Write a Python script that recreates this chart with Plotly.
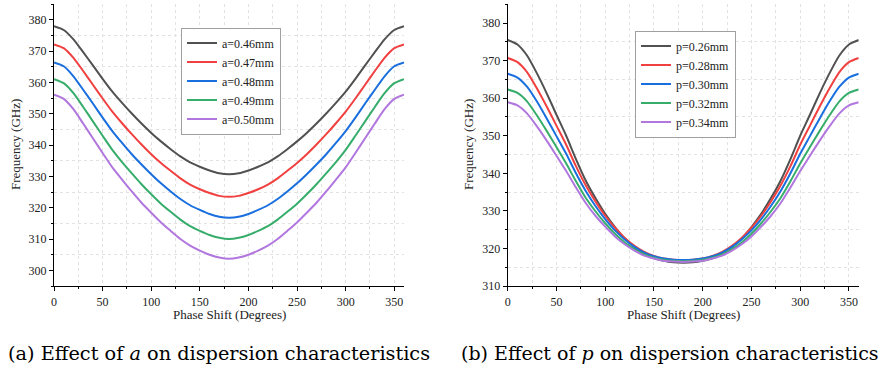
import plotly.graph_objects as go

phase = list(range(0, 361, 10))

# (a) effect of a  (GHz, 0..360 deg step 10)
a_labels = ["a=0.46mm", "a=0.47mm", "a=0.48mm", "a=0.49mm", "a=0.50mm"]
a_046 = [378.0, 376.8, 373.8, 369.7, 365.5, 361.2, 357.1, 353.5, 350.1, 346.9, 343.9, 341.2, 338.7,
         336.4, 334.5, 333.1, 331.9, 331.0, 330.7, 331.0, 331.9, 333.1, 334.5, 336.4, 338.7, 341.2,
         343.9, 346.9, 350.1, 353.5, 357.1, 361.2, 365.5, 369.7, 373.8, 376.8, 378.0]
a_047 = [372.2, 371.0, 367.9, 363.7, 359.3, 354.9, 350.7, 347.0, 343.5, 340.2, 337.1, 334.3, 331.8,
         329.4, 327.4, 325.9, 324.7, 323.8, 323.5, 323.8, 324.7, 325.9, 327.4, 329.4, 331.8, 334.3,
         337.1, 340.2, 343.5, 347.0, 350.7, 354.9, 359.3, 363.7, 367.9, 371.0, 372.2]
a_048 = [366.4, 365.2, 362.0, 357.7, 353.3, 348.8, 344.5, 340.7, 337.1, 333.8, 330.7, 327.8, 325.2,
         322.8, 320.8, 319.3, 318.0, 317.1, 316.8, 317.1, 318.0, 319.3, 320.8, 322.8, 325.2, 327.8,
         330.7, 333.8, 337.1, 340.7, 344.5, 348.8, 353.3, 357.7, 362.0, 365.2, 366.4]
a_049 = [361.1, 359.8, 356.6, 352.2, 347.6, 343.0, 338.5, 334.6, 331.0, 327.5, 324.3, 321.3, 318.7,
         316.2, 314.1, 312.6, 311.3, 310.4, 310.0, 310.4, 311.3, 312.6, 314.1, 316.2, 318.7, 321.3,
         324.3, 327.5, 331.0, 334.6, 338.5, 343.0, 347.6, 352.2, 356.6, 359.8, 361.1]
a_050 = [356.1, 354.8, 351.5, 346.9, 342.2, 337.5, 332.9, 329.0, 325.2, 321.6, 318.4, 315.3, 312.6,
         310.0, 307.9, 306.3, 305.0, 304.1, 303.7, 304.1, 305.0, 306.3, 307.9, 310.0, 312.6, 315.3,
         318.4, 321.6, 325.2, 329.0, 332.9, 337.5, 342.2, 346.9, 351.5, 354.8, 356.1]

# (b) effect of p
p_labels = ["p=0.26mm", "p=0.28mm", "p=0.30mm", "p=0.32mm", "p=0.34mm"]
p_026 = [375.5, 374.3, 371.3, 366.6, 361.3, 355.6, 350.0, 343.8, 338.1, 333.4, 329.2, 325.7, 322.7,
         320.4, 318.6, 317.4, 316.7, 316.3, 316.2, 316.3, 316.7, 317.4, 318.6, 320.4, 322.7, 325.7,
         329.2, 333.4, 338.1, 343.8, 350.0, 355.6, 361.3, 366.6, 371.3, 374.3, 375.5]
p_028 = [370.7, 369.6, 366.9, 362.6, 357.8, 352.7, 347.6, 341.9, 336.8, 332.5, 328.7, 325.5, 322.8,
         320.7, 319.1, 318.0, 317.3, 317.0, 316.9, 317.0, 317.3, 318.0, 319.1, 320.7, 322.8, 325.5,
         328.7, 332.5, 336.8, 341.9, 347.6, 352.7, 357.8, 362.6, 366.9, 369.6, 370.7]
p_030 = [366.5, 365.5, 363.0, 359.1, 354.6, 349.9, 345.2, 340.0, 335.3, 331.3, 327.8, 324.8, 322.4,
         320.4, 318.9, 317.9, 317.3, 317.0, 316.9, 317.0, 317.3, 317.9, 318.9, 320.4, 322.4, 324.8,
         327.8, 331.3, 335.3, 340.0, 345.2, 349.9, 354.6, 359.1, 363.0, 365.5, 366.5]
p_032 = [362.3, 361.4, 359.1, 355.4, 351.3, 347.0, 342.6, 337.9, 333.5, 329.9, 326.7, 323.9, 321.6,
         319.8, 318.4, 317.5, 317.0, 316.7, 316.6, 316.7, 317.0, 317.5, 318.4, 319.8, 321.6, 323.9,
         326.7, 329.9, 333.5, 337.9, 342.6, 347.0, 351.3, 355.4, 359.1, 361.4, 362.3]
p_034 = [358.9, 358.1, 355.9, 352.5, 348.7, 344.7, 340.6, 336.2, 332.1, 328.7, 325.8, 323.2, 321.1,
         319.4, 318.1, 317.3, 316.7, 316.5, 316.4, 316.5, 316.7, 317.3, 318.1, 319.4, 321.1, 323.2,
         325.8, 328.7, 332.1, 336.2, 340.6, 344.7, 348.7, 352.5, 355.9, 358.1, 358.9]

colors = ["#515151", "#F14040", "#1A6FDF", "#37AD6B", "#B177DE"]
x_ticks = [0, 50, 100, 150, 200, 250, 300, 350]
x_title = "Phase Shift (Degrees)"
y_title = "Frequency (GHz)"
captions = ["(a) Effect of <i>a</i> on dispersion characteristics",
            "(b) Effect of <i>p</i> on dispersion characteristics"]

FONT = "Liberation Serif, Times New Roman, serif"
CAPFONT = "DejaVu Serif, serif"
fig = go.Figure()

for name, ys, c in zip(a_labels, [a_046, a_047, a_048, a_049, a_050], colors):
    fig.add_trace(go.Scatter(x=phase, y=ys, name=name, mode="lines",
                             line=dict(color=c, width=2, shape="spline", smoothing=0.6),
                             xaxis="x", yaxis="y", legend="legend"))
for name, ys, c in zip(p_labels, [p_026, p_028, p_030, p_032, p_034], colors):
    fig.add_trace(go.Scatter(x=phase, y=ys, name=name, mode="lines",
                             line=dict(color=c, width=2, shape="spline", smoothing=0.6),
                             xaxis="x2", yaxis="y2", legend="legend2"))

H = 372
ydom = [(H - 286) / H, (H - 4.3) / H]
xdom1 = [54 / 885, 404 / 885]
xdom2 = [507.7 / 885, 858.7 / 885]

tickfont = dict(family=FONT, size=12, color="#222")

def xbase(dom, anchor):
    return dict(domain=dom, anchor=anchor, range=[0, 360], tickvals=x_ticks, automargin=False,
                showgrid=False, zeroline=False, showline=True, linecolor="black", linewidth=1.3,
                ticks="outside", ticklen=4, tickwidth=1, tickcolor="black",
                minor=dict(dtick=25, tick0=25, ticks="outside", ticklen=2, tickcolor="black",
                           showgrid=True, gridcolor="#e2e2e2", griddash="dot", gridwidth=1),
                tickfont=tickfont)

def ybase(dom, anchor, rng):
    return dict(domain=dom, anchor=anchor, range=rng, dtick=10, tick0=300, automargin=False,
                showgrid=False, zeroline=False, showline=True, linecolor="black", linewidth=1.3,
                ticks="outside", ticklen=4, tickwidth=1, tickcolor="black",
                minor=dict(dtick=5, tick0=5, ticks="outside", ticklen=2, tickcolor="black",
                           showgrid=True, gridcolor="#e2e2e2", griddash="dot", gridwidth=1),
                tickfont=tickfont)

def xmirror(dom, over, anchor):
    return dict(domain=dom, overlaying=over, anchor=anchor, side="top", range=[0, 360],
                tickvals=x_ticks, showticklabels=False, showgrid=False, zeroline=False,
                automargin=False, showline=True, linecolor="black", linewidth=1.3,
                ticks="inside", ticklen=4, tickcolor="black",
                minor=dict(dtick=25, tick0=25, ticks="inside", ticklen=2, tickcolor="black",
                           showgrid=False))

def ymirror(dom, over, anchor, rng):
    return dict(domain=dom, overlaying=over, anchor=anchor, side="right", range=rng, dtick=10,
                tick0=300, showticklabels=False, showgrid=False, zeroline=False,
                automargin=False, showline=True, linecolor="black", linewidth=1.3,
                ticks="inside", ticklen=4, tickcolor="black",
                minor=dict(dtick=5, tick0=5, ticks="inside", ticklen=2, tickcolor="black",
                           showgrid=False))

legend_common = dict(bgcolor="white", bordercolor="#a0a0a0", borderwidth=1,
                     font=dict(family=FONT, size=12, color="#222"),
                     xanchor="left", yanchor="middle", tracegroupgap=0, itemwidth=30)

def ann(text, x, y, size, family, angle=0, color="#222"):
    return dict(text=text, x=x / 885, y=(H - y) / H, xref="paper", yref="paper",
                showarrow=False, font=dict(family=family, size=size, color=color),
                xanchor="center", yanchor="middle", textangle=angle)

fig.update_layout(
    width=885, height=372, margin=dict(l=0, r=0, t=0, b=0, autoexpand=False),
    paper_bgcolor="white", plot_bgcolor="white", showlegend=True,
    xaxis=xbase(xdom1, "y"),
    yaxis=ybase(ydom, "x", [295, 385]),
    xaxis2=xbase(xdom2, "y2"),
    yaxis2=ybase(ydom, "x2", [310, 385]),
    xaxis3=xmirror(xdom1, "x", "y"),
    yaxis3=ymirror(ydom, "y", "x", [295, 385]),
    xaxis4=xmirror(xdom2, "x2", "y2"),
    yaxis4=ymirror(ydom, "y2", "x2", [310, 385]),
    legend=dict(x=181 / 885, y=(H - 81) / H, **legend_common),
    legend2=dict(x=635 / 885, y=(H - 84) / H, **legend_common),
    annotations=[
        ann(y_title, 15, 145, 13, FONT, -90),
        ann(y_title, 468, 145, 13, FONT, -90),
        ann(x_title, 229, 314, 13, FONT),
        ann(x_title, 683, 314, 13, FONT),
        ann(captions[0], 219, 353, 19.3, CAPFONT, color="black"),
        ann(captions[1], 670, 353, 19.0, CAPFONT, color="black"),
    ],
)

fig.write_html("out.html", post_script="document.body.style.margin='0px';",
               config={"displayModeBar": False})
